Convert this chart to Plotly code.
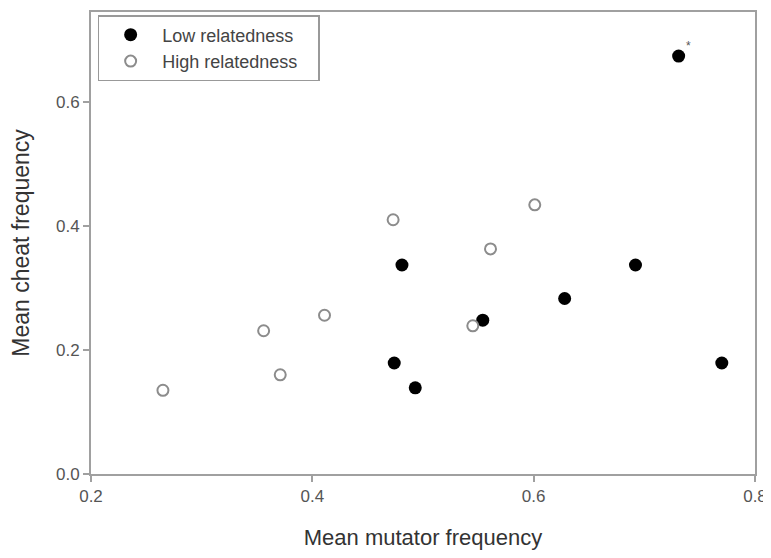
import plotly.graph_objects as go

low_x = [0.474, 0.493, 0.481, 0.554, 0.628, 0.692, 0.770, 0.731]
low_y = [0.179, 0.139, 0.337, 0.248, 0.283, 0.337, 0.179, 0.674]
high_x = [0.265, 0.356, 0.371, 0.411, 0.473, 0.545, 0.561, 0.601]
high_y = [0.135, 0.231, 0.160, 0.256, 0.410, 0.239, 0.363, 0.434]
x_ticks = [0.2, 0.4, 0.6, 0.8]
y_ticks = [0.0, 0.2, 0.4, 0.6]
star_x, star_y = 0.740, 0.690

FONT = "Arial, Liberation Sans, sans-serif"
AX = "#a0a0a0"
PAD = "\u00a0\u00a0\u00a0"

fig = go.Figure()
fig.add_trace(go.Scatter(x=low_x, y=low_y, mode="markers", name="Low relatedness" + PAD,
                         marker=dict(size=13, color="black", line=dict(width=0))))
fig.add_trace(go.Scatter(x=high_x, y=high_y, mode="markers", name="High relatedness" + PAD,
                         marker=dict(size=11, color="white", line=dict(width=2, color="#8c8c8c"))))
fig.add_annotation(x=star_x, y=star_y, text="*", showarrow=False,
                   font=dict(size=12, color="#555", family=FONT))

fig.update_layout(
    width=763, height=550,
    margin=dict(l=83, r=16, t=4, b=84),
    paper_bgcolor="white", plot_bgcolor="white",
    font=dict(family=FONT, color="#444", size=16),
    showlegend=True,
    legend=dict(x=0.01, y=0.9935, xanchor="left", yanchor="top",
                bordercolor="#999", borderwidth=1.5, bgcolor="white",
                font=dict(size=18, color="#444", family=FONT),
                itemwidth=53, tracegroupgap=0),
    xaxis=dict(range=[0.2, 0.8], tickvals=x_ticks, ticktext=[f"{v:.1f}" for v in x_ticks],
               showgrid=False, zeroline=False, showline=True, linecolor=AX, linewidth=2,
               mirror=True, ticks="outside", ticklen=6, tickcolor=AX, tickwidth=1.5,
               tickfont=dict(size=17, color="#555"), automargin=False,
               title=dict(text="Mean mutator frequency", font=dict(size=22, color="#333"), standoff=24)),
    yaxis=dict(range=[0, 0.745], tickvals=y_ticks, ticktext=[f"{v:.1f}" for v in y_ticks],
               showgrid=False, zeroline=False, showline=True, linecolor=AX, linewidth=2,
               mirror=True, ticks="outside", ticklen=6, tickcolor=AX, tickwidth=1.5,
               tickfont=dict(size=17, color="#555"), automargin=False,
               title=dict(text="Mean cheat frequency", font=dict(size=23, color="#333"), standoff=24)),
)
fig.write_html("out.html")
